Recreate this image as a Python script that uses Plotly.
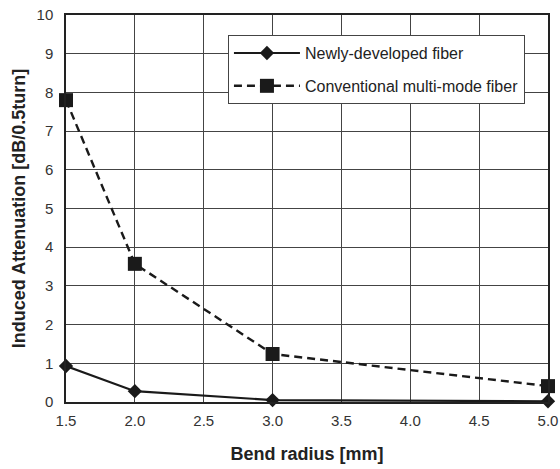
import plotly.graph_objects as go

bend_radius = [1.5, 2.0, 3.0, 5.0]
newly_developed = [0.93, 0.28, 0.05, 0.02]
conventional = [7.8, 3.57, 1.24, 0.41]
x_ticks = [1.5, 2.0, 2.5, 3.0, 3.5, 4.0, 4.5, 5.0]
x_tick_labels = ["1.5", "2.0", "2.5", "3.0", "3.5", "4.0", "4.5", "5.0"]
y_ticks = list(range(0, 11))

fig = go.Figure()
fig.add_trace(go.Scatter(
    x=bend_radius, y=newly_developed, name="Newly-developed fiber",
    mode="lines+markers", legendgroup="a",
    line=dict(color="#1a1a1a", width=2.2),
    marker=dict(symbol="diamond", size=11, color="#1a1a1a"),
    cliponaxis=False,
))
fig.add_trace(go.Scatter(
    x=bend_radius, y=conventional, name="Conventional multi-mode fiber",
    mode="lines+markers", legendgroup="b",
    line=dict(color="#1a1a1a", width=2.4, dash="8px,5px"),
    marker=dict(symbol="square", size=14, color="#1a1a1a"),
    cliponaxis=False,
))

fig.update_layout(
    width=560, height=469,
    margin=dict(l=66, r=12, t=15, b=67),
    paper_bgcolor="white", plot_bgcolor="white",
    font=dict(family="Liberation Sans, Arial, sans-serif", size=15, color="#222"),
    showlegend=True,
    legend=dict(
        x=0.336, y=0.948, xanchor="left", yanchor="top",
        bgcolor="white", bordercolor="#444", borderwidth=1,
        font=dict(size=16, color="#222"),
        tracegroupgap=9, traceorder="grouped", itemwidth=66,
    ),
    xaxis=dict(
        range=[1.5, 5.0], tickvals=x_ticks, ticktext=x_tick_labels,
        showgrid=True, gridcolor="#444", gridwidth=1,
        showline=True, linecolor="#222", linewidth=1.5, mirror=True,
        ticks="", zeroline=False, ticklabelstandoff=4, automargin=False,
        tickfont=dict(size=15, color="#333"),
        title=dict(text="<b>Bend radius [mm]</b>", font=dict(size=18, color="#222"), standoff=20),
    ),
    yaxis=dict(
        range=[0, 10], tickvals=y_ticks,
        showgrid=True, gridcolor="#444", gridwidth=1,
        showline=True, linecolor="#222", linewidth=1.5, mirror=True,
        ticks="", zeroline=False, ticklabelstandoff=8, automargin=False,
        tickfont=dict(size=15, color="#333"),
        title=dict(text="<b>Induced Attenuation [dB/0.5turn]</b>", font=dict(size=18, color="#222"), standoff=6),
    ),
)

fig.write_html(
    "out.html",
    config={"displayModeBar": False},
    post_script="document.body.style.margin='0';document.body.style.overflow='hidden';",
)
